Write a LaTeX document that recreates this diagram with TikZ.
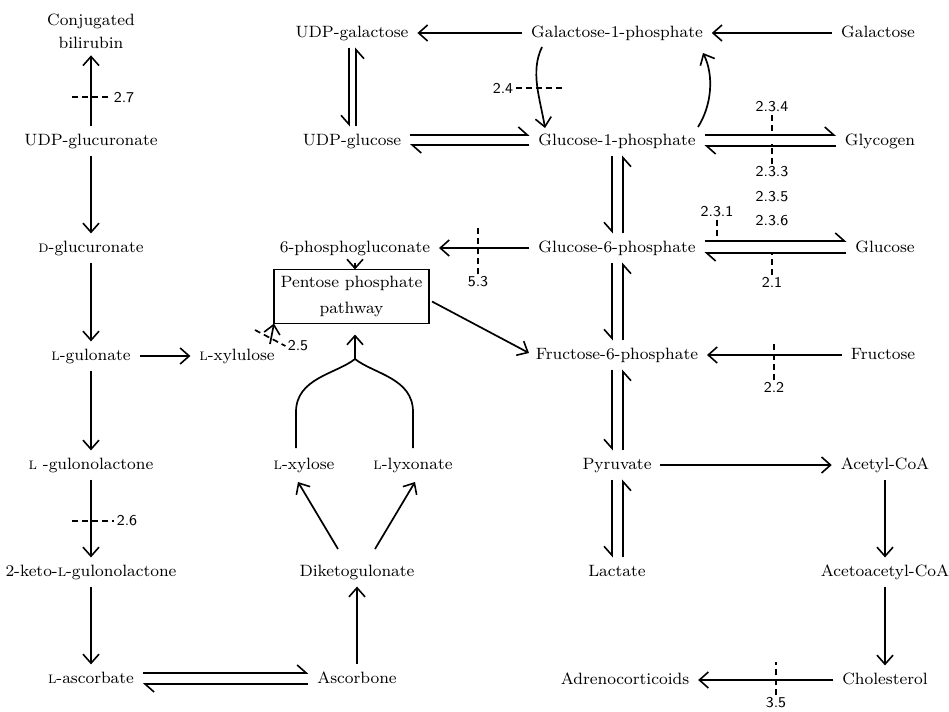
\documentclass[tikz,border=0pt]{standalone}
\usepackage{fontspec}
\usetikzlibrary{arrows.meta,calc}
\begin{document}
\begin{tikzpicture}[x=0.5pt,y=-0.5pt,
  molbase/.style={font=\fontsize{8.2}{10}\selectfont, inner xsep=3pt, inner ysep=2pt, outer sep=1.5pt},
  mol/.style={molbase, text height=5.8pt, text depth=1.8pt},
  arr/.style={-{Straight Barb[length=4.5pt,width=8pt,line width=0.8pt]}, line width=0.85pt},
  harp/.style={-{Straight Barb[length=4.5pt,width=8pt,harpoon,line width=0.8pt]}, line width=0.85pt},
  harps/.style={-{Straight Barb[length=4.5pt,width=8pt,harpoon,swap,line width=0.8pt]}, line width=0.85pt},
  dsh/.style={line width=0.85pt, dash pattern=on 3pt off 2pt},
  lbl/.style={font=\sffamily\fontsize{7.5}{9}\selectfont, inner sep=1pt},
  boxst/.style={draw, line width=0.9pt, minimum width=76.5pt, minimum height=26.5pt, align=center, font=\fontsize{8.2}{13}\selectfont, outer sep=0pt}
]
\useasboundingbox (0,0) rectangle (949,712);

% ---------- nodes ----------
\node[molbase, align=center, font=\fontsize{8.2}{11.5}\selectfont] (bili) at (91,31) {Conjugated\\bilirubin};
\node[mol] (ugcr)  at (91,141) {UDP-glucuronate};
\node[mol] (dglc)  at (91,248) {\textsc{d}-glucuronate};
\node[mol] (lgul)  at (91,356) {\textsc{l}-gulonate};
\node[mol] (lxylu) at (237,356) {\textsc{l}-xylulose};
\node[mol] (lgulo) at (91,465) {\textsc{l} -gulonolactone};
\node[mol] (keto)  at (91,572) {2-keto-\textsc{l}-gulonolactone};
\node[mol] (lasc)  at (91,679) {\textsc{l}-ascorbate};
\node[mol] (ascb)  at (357,679) {Ascorbone};
\node[mol] (diket) at (357,572) {Diketogulonate};
\node[mol] (lxyl)  at (304,465) {\textsc{l}-xylose};
\node[mol] (llyx)  at (413,465) {\textsc{l}-lyxonate};
\node[boxst] (ppp) at (351.5,296.5) {Pentose phosphate\\pathway};
\node[mol] (pg6)   at (355,248) {6-phosphogluconate};
\node[mol] (ugal)  at (352,33) {UDP-galactose};
\node[mol] (uglc)  at (352,141) {UDP-glucose};
\node[mol] (gal1p) at (617,33) {Galactose-1-phosphate};
\node[mol] (glc1p) at (617,141) {Glucose-1-phosphate};
\node[mol] (glc6p) at (617,248) {Glucose-6-phosphate};
\node[mol] (fru6p) at (617,355) {Fructose-6-phosphate};
\node[mol] (pyr)   at (617,465) {Pyruvate};
\node[mol] (lac)   at (617,572) {Lactate};
\node[mol] (gal)   at (878,33) {Galactose};
\node[mol] (glyc)  at (880,141) {Glycogen};
\node[mol] (glc)   at (885,248) {Glucose};
\node[mol] (fru)   at (883,355) {Fructose};
\node[mol] (acoa)  at (885,465) {Acetyl-CoA};
\node[mol] (aacoa) at (885,572) {Acetoacetyl-CoA};
\node[mol] (chol)  at (885,680) {Cholesterol};
\node[mol] (adr)   at (625,680) {Adrenocorticoids};

% enzyme labels
\node[lbl] (e27) at (124,97) {2.7};
\node[lbl] (e26) at (127,521) {2.6};
\node[lbl] (e25) at (298,346) {2.5};
\node[lbl] (e53) at (478,282) {5.3};
\node[lbl] (e24) at (503,88) {2.4};
\node[lbl] (e234) at (772,107) {2.3.4};
\node[lbl] (e233) at (772,172) {2.3.3};
\node[lbl] (e235) at (772,197) {2.3.5};
\node[lbl] (e236) at (772,221) {2.3.6};
\node[lbl] (e231) at (717,212) {2.3.1};
\node[lbl] (e21) at (772,282) {2.1};
\node[lbl] (e22) at (774,387) {2.2};
\node[lbl] (e35) at (776,703) {3.5};

% ---------- left column ----------
\draw[arr] (ugcr) -- (bili);
\draw[dsh] (72,97) -- (e27.west);
\draw[arr] (ugcr) -- (dglc);
\draw[arr] (dglc) -- (lgul);
\draw[arr] (lgul) -- (lxylu);
\draw[arr] (lgul) -- (lgulo);
\draw[arr] (lgulo) -- (keto);
\draw[dsh] (72,521) -- (e26.west);
\draw[arr] (keto) -- (lasc);
\draw[harp]  ([yshift=3pt]lasc.east) -- ([yshift=3pt]ascb.west);
\draw[harp]  ([yshift=-2.5pt]ascb.west) -- ([yshift=-2.5pt]lasc.east);

% ---------- middle ----------
\draw[arr] (ascb) -- (diket);
\draw[arr] ($(diket)+(-19,-23)$) -- ($(lxyl)+(-6,17)$);
\draw[arr] ($(diket)+(18,-23)$) -- ($(llyx)+(2,17)$);
\coordinate (jn) at (355,359);
\draw[line width=0.85pt] ($(lxyl)+(-8,-17)$) -- (296,412) .. controls (296,378) and (336,374) .. (jn);
\draw[line width=0.85pt] ($(llyx)+(0,-17)$) -- (413,412) .. controls (413,378) and (374,374) .. (jn);
\draw[arr, shorten >=5.5pt] (jn) -- (jn |- ppp.south);
\draw[arr] ($(lxylu)+(33,-12)$) -- (ppp.south west);
\draw[dsh] (255,330) -- (e25.west);
\draw[arr] ($(ppp.east)+(3,5)$) -- ($(fru6p.west)+(2,-2)$);
\draw[arr] (pg6.south) -- (pg6.south |- ppp.north);
\draw[arr] (glc6p) -- (pg6);
\draw[dsh] (e53.north) -- (e53.north |- 0,228);

% ---------- top ----------
\draw[arr] (gal1p) -- (ugal);
\draw[arr] (gal) -- (gal1p);
\draw[harps] ([xshift=-1.5pt]ugal.south) -- ([xshift=-1.5pt]uglc.north);
\draw[harps] ([xshift=2pt]uglc.north) -- ([xshift=2pt]ugal.south);
\draw[harp] ([yshift=3pt]uglc.east) -- ([yshift=3pt]glc1p.west);
\draw[harp] ([yshift=-2pt]glc1p.west) -- ([yshift=-2pt]uglc.east);
\draw[arr] ($(gal1p)+(-75,14)$) .. controls +(-12,25) and +(-5,-30) .. ($(glc1p)+(-72,-13)$);
\draw[dsh] (e24.east) -- (562,88);
\draw[arr] ($(glc1p)+(81,-14)$) .. controls +(14,-22) and +(11,22) .. ($(gal1p)+(86,20)$);

% ---------- right ----------
\draw[harp] ([yshift=3pt]glc1p.east) -- ([yshift=3pt]glyc.west);
\draw[harp] ([yshift=-2.5pt]glyc.west) -- ([yshift=-2.5pt]glc1p.east);
\draw[dsh] (e234.south) -- (e234.south |- 0,133);
\draw[dsh] (e233.north) -- (e233.north |- 0,144);
\draw[harps] ([xshift=-2.5pt]glc1p.south) -- ([xshift=-2.5pt]glc6p.north);
\draw[harps] ([xshift=3pt]glc6p.north) -- ([xshift=3pt]glc1p.south);
\draw[harp] ([yshift=3.5pt]glc6p.east) -- ([yshift=3.5pt]glc.west);
\draw[harp] ([yshift=-2.5pt]glc.west) -- ([yshift=-2.5pt]glc6p.east);
\draw[dsh] (e231.south) -- (e231.south |- 0,241);
\draw[dsh] (e21.north) -- (e21.north |- 0,253);
\draw[harps] ([xshift=-2.5pt]glc6p.south) -- ([xshift=-2.5pt]fru6p.north);
\draw[harps] ([xshift=3pt]fru6p.north) -- ([xshift=3pt]glc6p.south);
\draw[arr] (fru) -- (fru6p);
\draw[dsh] (e22.north) -- (e22.north |- 0,340);
\draw[harps] ([xshift=-2.5pt]fru6p.south) -- ([xshift=-2.5pt]pyr.north);
\draw[harps] ([xshift=3pt]pyr.north) -- ([xshift=3pt]fru6p.south);
\draw[harps] ([xshift=-2.5pt]pyr.south) -- ([xshift=-2.5pt]lac.north);
\draw[harps] ([xshift=3pt]lac.north) -- ([xshift=3pt]pyr.south);
\draw[arr] (pyr) -- (acoa);
\draw[arr] (acoa) -- (aacoa);
\draw[arr] (aacoa) -- (chol);
\draw[arr] (chol) -- (adr);
\draw[dsh] (e35.north) -- (e35.north |- 0,662);
\end{tikzpicture}
\end{document}
